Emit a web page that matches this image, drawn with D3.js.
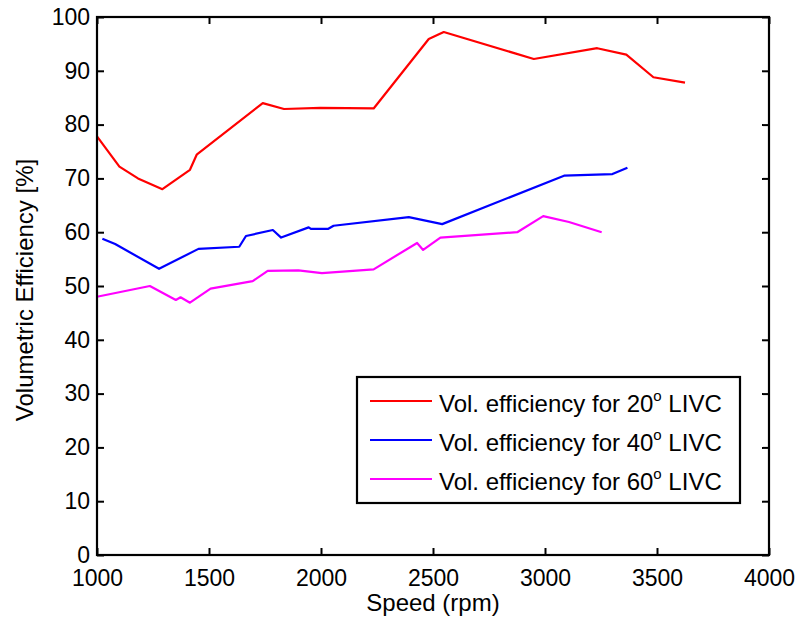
<!doctype html>
<html>
<head>
<script src="https://cdn.jsdelivr.net/npm/d3@7"></script>
<style>
  body { margin: 0; background: #fff; }
  text { font-family: "Liberation Sans", Arial, Helvetica, sans-serif; fill: #000; }
</style>
</head>
<body>
<svg width="799" height="621"></svg>
<script>
// values
const xTicks = [1000, 1500, 2000, 2500, 3000, 3500, 4000];
const yTicks = [0, 10, 20, 30, 40, 50, 60, 70, 80, 90, 100];

const rpm20 = [1000, 1100, 1183, 1292, 1415, 1445, 1740, 1835, 1997, 2235, 2481, 2548, 2950, 3233, 3363, 3484, 3625];
const ve20  = [77.8, 72.2, 70.0, 68.0, 71.6, 74.4, 84.0, 82.9, 83.1, 83.0, 95.9, 97.2, 92.2, 94.2, 93.0, 88.8, 87.8];

const rpm40 = [1024, 1081, 1277, 1453, 1635, 1665, 1785, 1822, 1945, 1955, 2031, 2056, 2392, 2541, 3085, 3301, 3368];
const ve40  = [58.8, 57.8, 53.2, 56.9, 57.3, 59.3, 60.4, 59.0, 60.9, 60.6, 60.6, 61.2, 62.8, 61.5, 70.5, 70.8, 72.0];

const rpm60 = [1000, 1236, 1352, 1373, 1415, 1507, 1695, 1762, 1899, 2004, 2235, 2429, 2456, 2533, 2876, 2992, 3107, 3253];
const ve60  = [48.0, 50.0, 47.4, 47.9, 46.9, 49.5, 50.9, 52.8, 52.9, 52.4, 53.1, 58.0, 56.7, 59.0, 60.0, 63.0, 61.9, 60.0];

const seriesNames = ["20", "40", "60"];
const seriesColors = ["#ff0000", "#0000ff", "#ff00ff"];

const svg = d3.select("svg");
const pL = 97, pR = 769, pT = 17, pB = 555;

const x = d3.scaleLinear().domain([1000, 4000]).range([pL, pR]);
const y = d3.scaleLinear().domain([0, 100]).range([pB, pT]);

const series = [
  d3.zip(rpm20, ve20),
  d3.zip(rpm40, ve40),
  d3.zip(rpm60, ve60)
];

const line = d3.line().x(d => x(d[0])).y(d => y(d[1]));

series.forEach((s, i) => {
  svg.append("path")
    .datum(s)
    .attr("d", line)
    .attr("fill", "none")
    .attr("stroke", seriesColors[i])
    .attr("stroke-width", 2.2)
    .attr("stroke-linejoin", "round");
});

// axes, ticks pointing inward on all four sides
const fmt = d3.format("d");
const axB = svg.append("g").attr("transform", `translate(0,${pB})`)
  .call(d3.axisBottom(x).tickValues(xTicks).tickFormat(fmt).tickSizeInner(-7).tickSizeOuter(0));
const axT = svg.append("g").attr("transform", `translate(0,${pT})`)
  .call(d3.axisTop(x).tickValues(xTicks).tickSizeInner(-7).tickSizeOuter(0).tickFormat(""));
const axL = svg.append("g").attr("transform", `translate(${pL},0)`)
  .call(d3.axisLeft(y).tickValues(yTicks).tickFormat(fmt).tickSizeInner(-7).tickSizeOuter(0));
const axR = svg.append("g").attr("transform", `translate(${pR},0)`)
  .call(d3.axisRight(y).tickValues(yTicks).tickSizeInner(-7).tickSizeOuter(0).tickFormat(""));

[axB, axT, axL, axR].forEach(a => {
  a.select(".domain").remove();
  a.selectAll("line").attr("stroke", "#000").attr("stroke-width", 2);
  a.selectAll("text").style("font-size", "23px").attr("fill", "#000");
});
axB.selectAll("text").attr("dy", "0.75em").attr("y", 14);
axL.selectAll("text").attr("x", -7);

svg.append("rect")
  .attr("x", pL).attr("y", pT)
  .attr("width", pR - pL).attr("height", pB - pT)
  .attr("fill", "none").attr("stroke", "#000").attr("stroke-width", 2.2);

// axis titles
svg.append("text")
  .attr("x", (pL + pR) / 2).attr("y", 611)
  .attr("text-anchor", "middle")
  .style("font-size", "24px")
  .text("Speed (rpm)");

svg.append("text")
  .attr("transform", "translate(33,290) rotate(-90)")
  .attr("text-anchor", "middle")
  .style("font-size", "24px")
  .text("Volumetric Efficiency [%]");

// legend
const lg = svg.append("g");
lg.append("rect")
  .attr("x", 357).attr("y", 377).attr("width", 383).attr("height", 126)
  .attr("fill", "#fff").attr("stroke", "#000").attr("stroke-width", 2.2);

seriesNames.forEach((n, i) => {
  const ly = 401 + i * 39;
  lg.append("line")
    .attr("x1", 370).attr("x2", 432).attr("y1", ly).attr("y2", ly)
    .attr("stroke", seriesColors[i]).attr("stroke-width", 2.2);
  const t = lg.append("text").attr("x", 439).attr("y", ly + 11).style("font-size", "24px");
  t.append("tspan").text("Vol. efficiency for " + n);
  t.append("tspan").attr("dy", -11).style("font-size", "15px").text("o");
  t.append("tspan").attr("dy", 11).text(" LIVC");
});
</script>
</body>
</html>
